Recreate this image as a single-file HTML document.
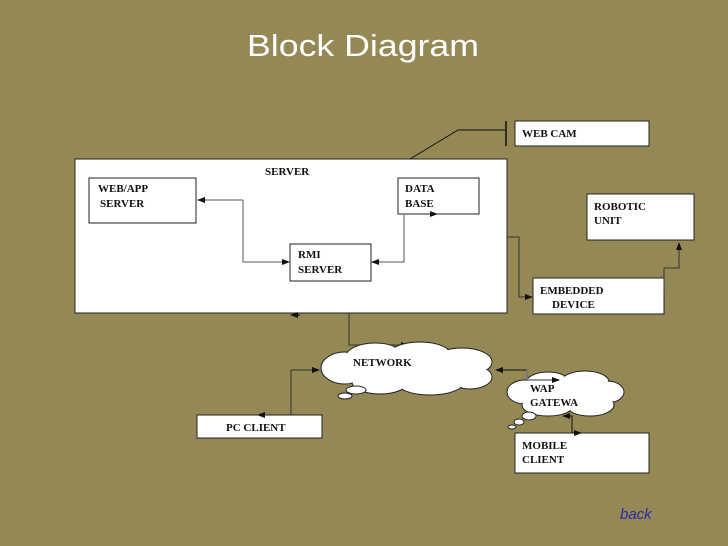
<!DOCTYPE html>
<html><head><meta charset="utf-8"><style>
html,body{margin:0;padding:0;background:#948954;}
svg{display:block}
.b{font-family:"Liberation Serif",serif;font-weight:bold;font-size:11px;fill:#111}
</style></head><body>
<svg width="728" height="546" viewBox="0 0 728 546" xmlns="http://www.w3.org/2000/svg">
<defs>
<marker id="a" markerWidth="8" markerHeight="8" refX="7" refY="4" orient="auto" markerUnits="userSpaceOnUse"><path d="M0,1 L8,4 L0,7 z" fill="#111"/></marker>
</defs>
<rect width="728" height="546" fill="#948954"/>
<text x="363" y="56" text-anchor="middle" font-family="Liberation Sans,sans-serif" font-size="31" fill="#fff" textLength="232" lengthAdjust="spacingAndGlyphs">Block Diagram</text>

<!-- web cam line -->
<polyline points="410,159 458,130 506,130" fill="none" stroke="#111" stroke-width="1"/>
<line x1="506" y1="121" x2="506" y2="146" stroke="#111" stroke-width="1.5"/>
<rect x="515" y="121" width="134" height="25" fill="#fff" stroke="#222"/>
<text class="b" x="522" y="137">WEB  CAM</text>

<!-- server -->
<rect x="75" y="159" width="432" height="154" fill="#fff" stroke="#222"/>
<text class="b" x="265" y="175">SERVER</text>
<rect x="89" y="178" width="107" height="45" fill="#fff" stroke="#222"/>
<text class="b" x="98" y="192">WEB/APP</text>
<text class="b" x="100" y="207">SERVER</text>
<rect x="398" y="178" width="81" height="36" fill="#fff" stroke="#222"/>
<text class="b" x="405" y="192">DATA</text>
<text class="b" x="405" y="207">BASE</text>
<rect x="290" y="244" width="81" height="37" fill="#fff" stroke="#222"/>
<text class="b" x="298" y="258">RMI</text>
<text class="b" x="298" y="273">SERVER</text>
<polyline points="243,200 198,200" fill="none" stroke="#555" marker-end="url(#a)"/>
<polyline points="243,200 243,262 289,262" fill="none" stroke="#555" marker-end="url(#a)"/>
<polyline points="404,215 404,262 372,262" fill="none" stroke="#555" marker-end="url(#a)"/>
<line x1="430" y1="214" x2="437" y2="214" stroke="#111" marker-end="url(#a)"/>

<!-- right side -->
<rect x="587" y="194" width="107" height="46" fill="#fff" stroke="#222"/>
<text class="b" x="594" y="210">ROBOTIC</text>
<text class="b" x="594" y="224">UNIT</text>
<rect x="533" y="278" width="131" height="36" fill="#fff" stroke="#222"/>
<text class="b" x="540" y="294">EMBEDDED</text>
<text class="b" x="552" y="308">DEVICE</text>
<polyline points="507,237 519,237 519,297 532,297" fill="none" stroke="#333" marker-end="url(#a)"/>
<polyline points="664,291 664,268 679,268 679,243" fill="none" stroke="#333" marker-end="url(#a)"/>

<!-- server to network -->
<line x1="300" y1="315" x2="291" y2="315" stroke="#111" marker-end="url(#a)"/>
<polyline points="349,313 349,345 408,345" fill="none" stroke="#333" marker-end="url(#a)"/>

<!-- network cloud -->
<g fill="#fff" stroke="#222">
<ellipse cx="345" cy="368" rx="24" ry="16"/>
<ellipse cx="375" cy="358" rx="30" ry="15"/>
<ellipse cx="420" cy="356" rx="32" ry="14"/>
<ellipse cx="462" cy="362" rx="30" ry="14"/>
<ellipse cx="470" cy="377" rx="22" ry="12"/>
<ellipse cx="430" cy="382" rx="34" ry="13"/>
<ellipse cx="380" cy="382" rx="28" ry="12"/>
</g>
<g fill="#fff">
<ellipse cx="345" cy="368" rx="23" ry="15"/>
<ellipse cx="375" cy="358" rx="29" ry="14"/>
<ellipse cx="420" cy="356" rx="31" ry="13"/>
<ellipse cx="462" cy="362" rx="29" ry="13"/>
<ellipse cx="470" cy="377" rx="21" ry="11"/>
<ellipse cx="430" cy="382" rx="33" ry="12"/>
<ellipse cx="380" cy="382" rx="27" ry="11"/>
<rect x="340" y="360" width="140" height="20"/>
</g>
<ellipse cx="356" cy="390" rx="10" ry="4" fill="#fff" stroke="#222"/>
<ellipse cx="345" cy="396" rx="7" ry="3" fill="#fff" stroke="#222"/>
<text class="b" x="353" y="366">NETWORK</text>

<!-- pc client -->
<rect x="197" y="415" width="125" height="23" fill="#fff" stroke="#222"/>
<text class="b" x="226" y="431">PC CLIENT</text>
<line x1="265" y1="415" x2="258" y2="415" stroke="#111" marker-end="url(#a)"/>
<polyline points="291,415 291,370 319,370" fill="none" stroke="#333" marker-end="url(#a)"/>

<!-- WAP cloud -->
<g fill="#fff" stroke="#222">
<ellipse cx="525" cy="392" rx="18" ry="12"/>
<ellipse cx="548" cy="383" rx="22" ry="11"/>
<ellipse cx="585" cy="382" rx="24" ry="11"/>
<ellipse cx="607" cy="392" rx="17" ry="11"/>
<ellipse cx="590" cy="405" rx="24" ry="11"/>
<ellipse cx="548" cy="405" rx="26" ry="11"/>
</g>
<g fill="#fff">
<ellipse cx="525" cy="392" rx="17" ry="11"/>
<ellipse cx="548" cy="383" rx="21" ry="10"/>
<ellipse cx="585" cy="382" rx="23" ry="10"/>
<ellipse cx="607" cy="392" rx="16" ry="10"/>
<ellipse cx="590" cy="405" rx="23" ry="10"/>
<ellipse cx="548" cy="405" rx="25" ry="10"/>
<rect x="525" y="385" width="85" height="18"/>
</g>
<ellipse cx="529" cy="416" rx="7" ry="4" fill="#fff" stroke="#222"/>
<ellipse cx="519" cy="422" rx="5" ry="3" fill="#fff" stroke="#222"/>
<ellipse cx="512" cy="427" rx="4" ry="2" fill="#fff" stroke="#222"/>
<text class="b" x="530" y="392">WAP</text>
<text class="b" x="530" y="406">GATEWA</text>
<polyline points="527,370 496,370" fill="none" stroke="#111" marker-end="url(#a)"/>
<polyline points="527,370 527,380 559,380" fill="none" stroke="#777" stroke-width="1.5" marker-end="url(#a)"/>

<!-- mobile -->
<rect x="515" y="433" width="134" height="40" fill="#fff" stroke="#222"/>
<text class="b" x="522" y="449">MOBILE</text>
<text class="b" x="522" y="463">CLIENT</text>
<polyline points="572,433 572,416 563,416" fill="none" stroke="#111" marker-end="url(#a)"/>
<line x1="572" y1="433" x2="581" y2="433" stroke="#111" marker-end="url(#a)"/>

<text x="620" y="519" font-family="Liberation Sans,sans-serif" font-style="italic" font-size="15" fill="#2a2aa8">back</text>
</svg>
</body></html>
